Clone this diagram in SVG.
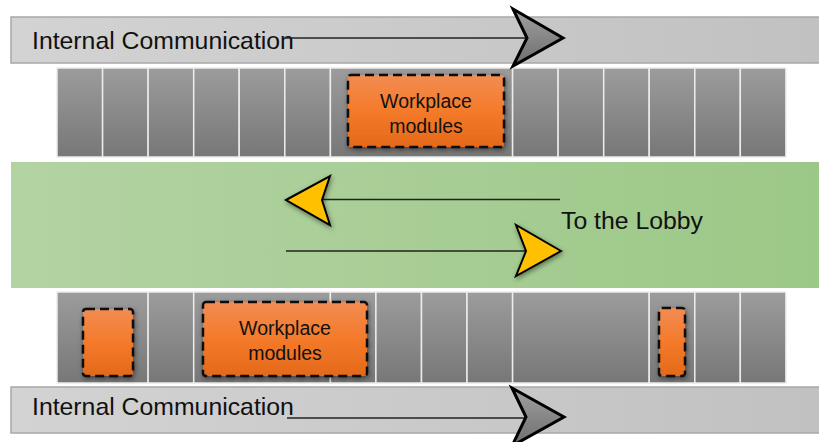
<svg xmlns="http://www.w3.org/2000/svg" width="819" height="442" viewBox="0 0 819 442">
  <defs>
    <linearGradient id="bandGray" x1="0" y1="0" x2="1" y2="0">
      <stop offset="0" stop-color="#d3d3d3"/>
      <stop offset="1" stop-color="#c1c1c1"/>
    </linearGradient>
    <linearGradient id="bandGreen" x1="0" y1="0" x2="1" y2="0">
      <stop offset="0" stop-color="#b3d3a3"/>
      <stop offset="1" stop-color="#9cc887"/>
    </linearGradient>
    <linearGradient id="cellFill" x1="0" y1="0" x2="0" y2="1">
      <stop offset="0" stop-color="#9c9c9c"/>
      <stop offset="1" stop-color="#777777"/>
    </linearGradient>
    <linearGradient id="moduleFill" x1="0" y1="0" x2="0" y2="1">
      <stop offset="0" stop-color="#f28c52"/>
      <stop offset="0.5" stop-color="#f47a2a"/>
      <stop offset="1" stop-color="#e4691a"/>
    </linearGradient>
    <linearGradient id="headGray" x1="0" y1="0" x2="0" y2="1">
      <stop offset="0" stop-color="#a0a0a0"/>
      <stop offset="1" stop-color="#6e6e6e"/>
    </linearGradient>
    <filter id="shadow" x="-30%" y="-30%" width="160%" height="160%">
      <feDropShadow dx="1" dy="2" stdDeviation="2.5" flood-color="#000" flood-opacity="0.45"/>
    </filter>
    <style>
      .band { fill: url(#bandGray); stroke: #a8a8a8; stroke-width: 1.5; }
      .cell { fill: url(#cellFill); stroke: #ececec; stroke-width: 1.5; }
      .module { fill: url(#moduleFill); stroke: #111; stroke-width: 2.5; stroke-dasharray: 9 5; filter: url(#shadow); }
      .label { font-family: "Liberation Sans", Arial, sans-serif; fill: #111; }
      .big { font-size: 24.8px; }
      .small { font-size: 19.5px; text-anchor: middle; }
      .flow { stroke: #222; stroke-width: 1.6; fill: none; }
      .headG { fill: url(#headGray); stroke: #000; stroke-width: 3; stroke-linejoin: miter; }
      .headY { fill: #ffc000; stroke: #000; stroke-width: 2; stroke-linejoin: miter; filter: url(#shadow); }
    </style>
  </defs>

  <!-- corridor bands -->
  <g id="band-top">
    <rect class="band" x="11" y="17" width="812" height="46"/>
    <text class="label big" x="32" y="49">Internal Communication</text>
  </g>
  <g id="lobby">
    <rect x="11" y="162" width="808" height="126" fill="url(#bandGreen)"/>
    <text class="label big" x="561" y="229">To the Lobby</text>
  </g>
  <g id="band-bottom">
    <rect class="band" x="11" y="387" width="812" height="46"/>
    <text class="label big" x="32" y="415">Internal Communication</text>
  </g>

  <!-- upper row of cells -->
  <g id="cells-top">
    <rect class="cell" x="57" y="68" width="45.6" height="89"/>
    <rect class="cell" x="102.6" y="68" width="45.5" height="89"/>
    <rect class="cell" x="148.1" y="68" width="45.6" height="89"/>
    <rect class="cell" x="193.7" y="68" width="45.5" height="89"/>
    <rect class="cell" x="239.2" y="68" width="45.6" height="89"/>
    <rect class="cell" x="284.8" y="68" width="45.6" height="89"/>
    <rect class="cell" x="330.4" y="68" width="182.2" height="89"/>
    <rect class="cell" x="512.6" y="68" width="45.5" height="89"/>
    <rect class="cell" x="558.1" y="68" width="45.6" height="89"/>
    <rect class="cell" x="603.7" y="68" width="45.5" height="89"/>
    <rect class="cell" x="649.2" y="68" width="45.6" height="89"/>
    <rect class="cell" x="694.8" y="68" width="45.5" height="89"/>
    <rect class="cell" x="740.3" y="68" width="45.6" height="89"/>
  </g>

  <!-- lower row of cells -->
  <g id="cells-bottom">
    <rect class="cell" x="57" y="292" width="91.1" height="91"/>
    <rect class="cell" x="148.1" y="292" width="45.6" height="91"/>
    <rect class="cell" x="193.7" y="292" width="136.7" height="91"/>
    <rect class="cell" x="330.4" y="292" width="45.5" height="91"/>
    <rect class="cell" x="375.9" y="292" width="45.6" height="91"/>
    <rect class="cell" x="421.5" y="292" width="45.5" height="91"/>
    <rect class="cell" x="467" y="292" width="45.6" height="91"/>
    <rect class="cell" x="512.6" y="292" width="136.6" height="91"/>
    <rect class="cell" x="649.2" y="292" width="45.6" height="91"/>
    <rect class="cell" x="694.8" y="292" width="45.5" height="91"/>
    <rect class="cell" x="740.3" y="292" width="45.6" height="91"/>
  </g>

  <!-- workplace modules -->
  <g id="module-top">
    <rect class="module" x="348" y="75" width="156" height="72" rx="3"/>
    <text class="label small" x="426" y="108">Workplace</text>
    <text class="label small" x="426" y="133">modules</text>
  </g>
  <g id="module-bottom">
    <rect class="module" x="203" y="302" width="164" height="74" rx="3"/>
    <text class="label small" x="285" y="335">Workplace</text>
    <text class="label small" x="285" y="360">modules</text>
  </g>
  <g id="module-small-left">
    <rect class="module" x="83" y="309" width="50" height="67" rx="3"/>
  </g>
  <g id="module-small-right">
    <rect class="module" x="659" y="308" width="26" height="68" rx="3"/>
  </g>

  <!-- circulation arrows -->
  <g id="connectors">
    <line class="flow" x1="285" y1="38" x2="527" y2="38"/>
    <path class="headG" d="M513,9 L563,38 L513,66 L527,38 Z"/>

    <line class="flow" x1="322" y1="199.5" x2="560" y2="199.5"/>
    <path class="headY" d="M286,200 L330,176 L322,200 L330,225 Z"/>

    <line class="flow" x1="286" y1="251" x2="526" y2="251"/>
    <path class="headY" d="M561,251 L516,225 L526,251 L516,276 Z"/>

    <line class="flow" x1="287" y1="418" x2="526" y2="418"/>
    <path class="headG" d="M512,388 L564,417 L512,446 L526,417 Z"/>
  </g>
</svg>
